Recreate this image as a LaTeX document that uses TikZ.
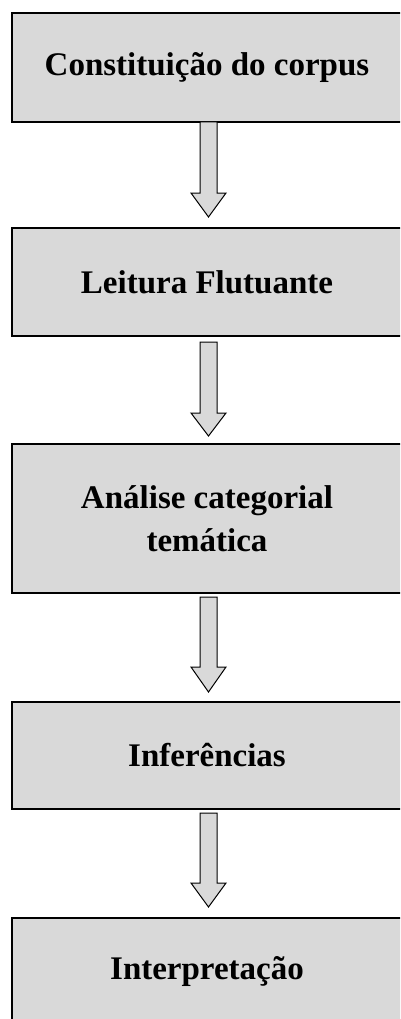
\documentclass[tikz,border=0pt]{standalone}
\usepackage{fontspec}
\setmainfont{Liberation Serif}
\usetikzlibrary{calc}
\definecolor{boxgray}{HTML}{D9D9D9}
\tikzset{
  stagebox/.style={draw=black, line width=2pt, fill=boxgray, inner sep=0pt,
    minimum width=390pt, align=center, font=\fontsize{33}{43}\selectfont\bfseries, text=black},
  blockarrow/.style={draw=black, line width=1pt, fill=boxgray, line join=miter}
}
\newcommand{\blockarr}[3]{% start, headstart, tip
  \draw[blockarrow] ($(#1)+(-8.5,0)$) -- ($(#2)+(-8.5,0)$) -- ($(#2)+(-17.5,0)$) -- (#3)
    -- ($(#2)+(17.5,0)$) -- ($(#2)+(8.5,0)$) -- ($(#1)+(8.5,0)$) -- cycle;}
\begin{document}
\begin{tikzpicture}[x=1pt,y=-1pt]
\useasboundingbox (0,0) rectangle (400,1019);
\clip (0,0) rectangle (400,1019);
\node[stagebox, minimum height=109pt] (b1) at (207,67.5) {Constituição do corpus};
\node[stagebox, minimum height=108pt] (b2) at (207,282) {Leitura Flutuante};
\node[stagebox, minimum height=149pt] (b3) at (207,518.5) {Análise categorial\\temática};
\node[stagebox, minimum height=107pt] (b4) at (207,755.5) {Inferências};
\node[stagebox, minimum height=107pt] (b5) at (207,971.5) {Interpretação};
% arrows
\coordinate (a1s) at (208.5,122);
\coordinate (a1h) at (208.5,193);
\coordinate (a1t) at (208.5,217);
\coordinate (a2s) at (208.5,342);
\coordinate (a2h) at (208.5,413);
\coordinate (a2t) at (208.5,436);
\coordinate (a3s) at (208.5,597);
\coordinate (a3h) at (208.5,667);
\coordinate (a3t) at (208.5,692);
\coordinate (a4s) at (208.5,813);
\coordinate (a4h) at (208.5,883);
\coordinate (a4t) at (208.5,907);
\blockarr{a1s}{a1h}{a1t}
\blockarr{a2s}{a2h}{a2t}
\blockarr{a3s}{a3h}{a3t}
\blockarr{a4s}{a4h}{a4t}
\end{tikzpicture}
\end{document}
